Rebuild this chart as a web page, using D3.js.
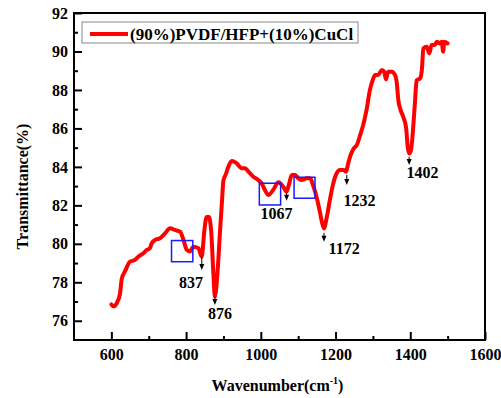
<!DOCTYPE html>
<html>
<head>
<meta charset="utf-8">
<script src="https://cdn.jsdelivr.net/npm/d3@7"></script>
<style>
  body { margin: 0; background: #fff; }
  text { font-family: "Liberation Serif", "Times New Roman", serif; font-weight: bold; fill: #000; }
</style>
</head>
<body>
<div id="chart"></div>
<script>
'use strict';

// spectrum
var wavenumber = [600, 606, 614, 623, 628, 636, 650, 663, 672, 685, 695, 703, 708, 717, 730, 744, 757, 770, 784, 793,
  802, 810, 819, 833, 842, 849, 855, 861, 867, 873, 877, 884, 891, 896, 900, 906, 913, 922, 930, 935,
  949, 958, 967, 980, 993, 1002, 1011, 1020, 1033, 1047, 1060, 1069, 1075, 1083, 1092, 1100, 1109, 1123, 1132, 1141,
  1150, 1158, 1164, 1169, 1176, 1185, 1194, 1203, 1212, 1221, 1228, 1234, 1240, 1249, 1257, 1266, 1274, 1283, 1292, 1301,
  1306, 1314, 1324, 1330, 1335, 1341, 1350, 1359, 1364, 1368, 1374, 1381, 1389, 1393, 1397, 1402, 1408, 1413, 1417, 1426,
  1431, 1435, 1444, 1451, 1457, 1466, 1471, 1478, 1484, 1488, 1491, 1500];
var transmittance = [76.85, 76.75, 76.9, 77.4, 78.2, 78.55, 79.07, 79.16, 79.33, 79.5, 79.68, 79.77, 80.03, 80.2, 80.29, 80.55, 80.81, 80.72, 80.63, 80.2,
  79.68, 79.6, 79.85, 79.77, 79.33, 80.72, 81.4, 81.4, 80.7, 78.47, 77.25, 78.5, 80.7, 82.2, 83.3, 83.6, 84.0, 84.3, 84.25, 84.19,
  83.93, 83.93, 83.75, 83.49, 83.32, 83.15, 82.8, 82.54, 82.8, 83.2, 82.97, 82.71, 83.06, 83.58, 83.58, 83.41, 83.32, 83.41, 83.41, 82.97,
  82.37, 81.67, 81.1, 80.8, 81.33, 82.3, 83.15, 83.67, 83.84, 83.84, 83.75, 84.19, 84.6, 84.97, 85.14, 85.66, 86.18, 86.96, 88.0, 88.6,
  88.78, 88.78, 89.04, 88.95, 88.55, 88.95, 88.95, 88.78, 88.35, 87.48, 86.96, 86.61, 86.0, 85.05, 84.7, 84.88, 86.09, 87.5, 88.5, 88.6,
  89.04, 90.16, 90.25, 89.9, 90.34, 90.34, 90.51, 90.42, 90.51, 89.99, 90.51, 90.42];

var seriesName = '(90%)PVDF/HFP+(10%)CuCl';

var xMajorTicks = [600, 800, 1000, 1200, 1400, 1600];
var xMinorTicks = [700, 900, 1100, 1300, 1500];
var yMajorTicks = [76, 78, 80, 82, 84, 86, 88, 90, 92];
var yMinorTicks = [77, 79, 81, 83, 85, 87, 89, 91];

// peak annotations: label, arrow top/bottom, label anchor
var peakLabels = ['837', '876', '1067', '1172', '1232', '1402'];
var peakX = [842, 877, 1069, 1169, 1230, 1397];
var peakTop = [79.33, 77.24, 82.64, 80.57, 83.58, 84.53];
var peakBottom = [78.64, 76.82, 82.24, 80.11, 83.06, 84.1];
var labelX = [813, 891, 1042, 1223, 1264, 1433];
var labelY = [77.71, 76.1, 81.29, 79.47, 81.97, 83.42];

// blue marker boxes [x0, x1, y0, y1]
var boxX0 = [761, 996, 1089];
var boxX1 = [818, 1053, 1145];
var boxY0 = [79.07, 82.02, 82.37];
var boxY1 = [80.17, 83.15, 83.46];

var margin = { top: 13, right: 16, bottom: 58, left: 74 };
var width = 501 - margin.left - margin.right;
var height = 398 - margin.top - margin.bottom;

var x = d3.scaleLinear().domain([500, 1600]).range([0, width]);
var y = d3.scaleLinear().domain([75, 92]).range([height, 0]);

var svg = d3.select('#chart')
    .append('svg')
    .attr('width', 501)
    .attr('height', 398)
    .append('g')
    .attr('transform', 'translate(' + margin.left + ',' + margin.top + ')');

// axes (ticks point inward)
function styleAxis(g) {
  g.select('.domain').remove();
  g.selectAll('.tick line').attr('stroke', '#000').attr('stroke-width', 2);
  g.selectAll('.tick text').style('font-size', '16px');
}

svg.append('g')
  .attr('transform', 'translate(0,' + height + ')')
  .call(d3.axisBottom(x).tickValues(xMajorTicks).tickSize(-8).tickPadding(9).tickFormat(d3.format('d')))
  .call(styleAxis);

svg.append('g')
  .attr('transform', 'translate(0,' + height + ')')
  .call(d3.axisBottom(x).tickValues(xMinorTicks).tickSize(-4).tickFormat(''))
  .call(styleAxis);

svg.append('g')
  .call(d3.axisLeft(y).tickValues(yMajorTicks).tickSize(-8).tickPadding(6).tickFormat(d3.format('d')))
  .call(styleAxis);

svg.append('g')
  .call(d3.axisLeft(y).tickValues(yMinorTicks).tickSize(-4).tickFormat(''))
  .call(styleAxis);

// frame
svg.append('rect')
  .attr('width', width)
  .attr('height', height)
  .attr('fill', 'none')
  .attr('stroke', '#000')
  .attr('stroke-width', 2);

// spectrum line
var points = wavenumber.map(function (w, i) { return { w: w, t: transmittance[i] }; });
var line = d3.line()
  .x(function (d) { return x(d.w); })
  .y(function (d) { return y(d.t); })
  .curve(d3.curveMonotoneX);

svg.append('path')
  .datum(points)
  .attr('d', line)
  .attr('fill', 'none')
  .attr('stroke', '#ff0000')
  .attr('stroke-width', 4)
  .attr('stroke-linejoin', 'round')
  .attr('stroke-linecap', 'round');

// blue boxes
svg.append('g').selectAll('rect')
  .data(boxX0)
  .enter()
  .append('rect')
  .attr('x', function (d, i) { return x(boxX0[i]); })
  .attr('y', function (d, i) { return y(boxY1[i]); })
  .attr('width', function (d, i) { return x(boxX1[i]) - x(boxX0[i]); })
  .attr('height', function (d, i) { return y(boxY0[i]) - y(boxY1[i]); })
  .attr('fill', 'none')
  .attr('stroke', '#1a1aff')
  .attr('stroke-width', 1.5);

// peak arrows + labels
var peaks = svg.append('g');
peakLabels.forEach(function (lab, i) {
  var px = x(peakX[i]);
  var y1 = y(peakTop[i]);
  var y2 = y(peakBottom[i]);
  peaks.append('line')
    .attr('x1', px).attr('x2', px)
    .attr('y1', y1).attr('y2', y2 - 4)
    .attr('stroke', '#000')
    .attr('stroke-width', 1);
  peaks.append('path')
    .attr('d', 'M' + (px - 2.5) + ',' + (y2 - 6) + 'L' + (px + 2.5) + ',' + (y2 - 6) + 'L' + px + ',' + y2 + 'Z')
    .attr('fill', '#000');
  peaks.append('text')
    .attr('x', x(labelX[i]))
    .attr('y', y(labelY[i]))
    .attr('text-anchor', 'middle')
    .style('font-size', '16px')
    .text(lab);
});

// legend
var legend = svg.append('g');
legend.append('rect')
  .attr('x', 8).attr('y', 9)
  .attr('width', 276).attr('height', 21)
  .attr('fill', '#fff')
  .attr('stroke', '#888')
  .attr('stroke-width', 1);
legend.append('line')
  .attr('x1', 16).attr('x2', 54)
  .attr('y1', 21).attr('y2', 21)
  .attr('stroke', '#ff0000')
  .attr('stroke-width', 4);
legend.append('text')
  .attr('x', 56).attr('y', 26.5)
  .style('font-size', '17px')
  .text(seriesName);

// axis titles
var xTitle = svg.append('text')
  .attr('x', width / 2 - 2)
  .attr('y', height + 51)
  .attr('text-anchor', 'middle')
  .style('font-size', '16px');
xTitle.append('tspan').text('Wavenumber(cm');
xTitle.append('tspan').attr('dy', -7).style('font-size', '10px').text('-1');
xTitle.append('tspan').attr('dy', 7).text(')');

svg.append('text')
  .attr('transform', 'translate(' + (-46) + ',' + (height / 2 + 10) + ') rotate(-90)')
  .attr('text-anchor', 'middle')
  .style('font-size', '16px')
  .text('Transmittance(%)');
</script>
</body>
</html>
